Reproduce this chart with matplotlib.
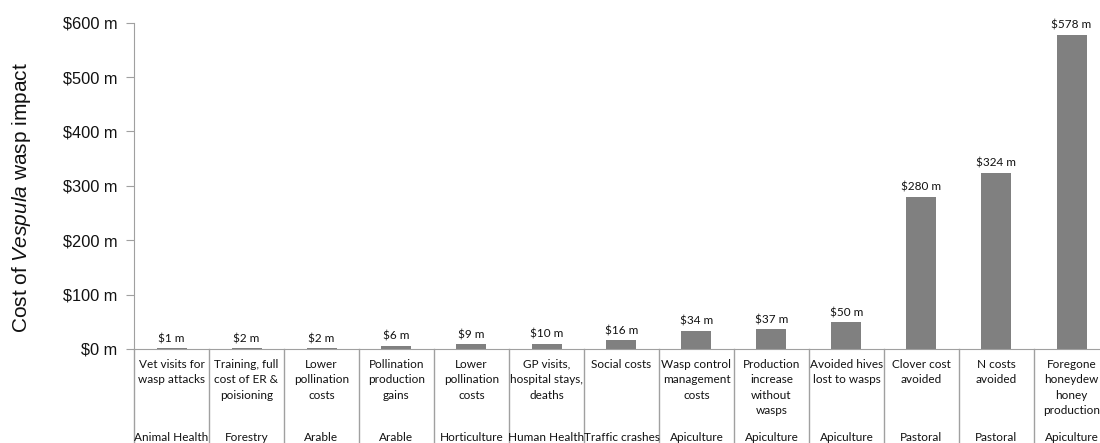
import matplotlib
matplotlib.use("Agg")
from matplotlib import pyplot as plt
import numpy as np

# cost of each impact, in $ millions
impacts = ["Vet visits for\nwasp attacks", "Training, full\ncost of ER &\npoisioning",
           "Lower\npollination\ncosts", "Pollination\nproduction\ngains",
           "Lower\npollination\ncosts", "GP visits,\nhospital stays,\ndeaths",
           "Social costs", "Wasp control\nmanagement\ncosts",
           "Production\nincrease\nwithout\nwasps", "Avoided hives\nlost to wasps",
           "Clover cost\navoided", "N costs\navoided",
           "Foregone\nhoneydew\nhoney\nproduction"]
sectors = ["Animal Health", "Forestry", "Arable", "Arable", "Horticulture",
           "Human Health", "Traffic crashes", "Apiculture", "Apiculture",
           "Apiculture", "Pastoral", "Pastoral", "Apiculture"]
costs = [1, 2, 2, 6, 9, 10, 16, 34, 37, 50, 280, 324, 578]

plt.rcParams['mathtext.fontset'] = 'custom'
plt.rcParams['mathtext.rm'] = 'Liberation Sans'
plt.rcParams['mathtext.it'] = 'Liberation Sans:italic'

fig = plt.figure(figsize=(11, 4.43), dpi=100)
ax = fig.add_axes([134 / 1100, 94 / 443, 975 / 1100, 326.3 / 443])

x = np.arange(len(costs))
ax.bar(x, costs, width=0.4, color="#808080")
for xi, c in zip(x, costs):
    ax.text(xi, c + 7, "$%d m" % c, ha="center", va="bottom",
            fontsize=8.5, family="Lato", color="#111111")

ax.set_xlim(-0.5, len(costs) - 0.5)
ax.set_ylim(0, 600)
ax.set_yticks(np.arange(0, 601, 100))
ax.set_yticklabels(["\\$%d m" % v for v in range(0, 601, 100)],
                   family="Liberation Sans", fontsize=11.8)
ax.set_xticks([])
ax.tick_params(axis="y", length=6, color="#A0A0A0", pad=6, labelcolor="#111111")
for s in ["top", "right"]:
    ax.spines[s].set_visible(False)
for s in ["left", "bottom"]:
    ax.spines[s].set_color("#A0A0A0")

ax.set_ylabel("Cost of $Vespula$ wasp impact", family="Liberation Sans",
              fontsize=15, color="#111111")
ax.yaxis.set_label_coords(-101 / 975, 0.463)

# category dividers and two-level labels under the axis
trans = ax.get_xaxis_transform()
for b in np.arange(len(costs) + 1) - 0.5:
    ax.plot([b, b], [0, -0.3], transform=trans, color="#A0A0A0",
            lw=1, clip_on=False)
for xi, lab, sec in zip(x, impacts, sectors):
    ax.text(xi, -0.03, lab, transform=trans, ha="center", va="top",
            fontsize=8.5, family="Lato", linespacing=1.5, color="#111111")
    ax.text(xi, -0.27, sec, transform=trans, ha="center", va="center",
            fontsize=8.5, family="Lato", color="#111111")

fig.savefig("out.png", dpi=100)
